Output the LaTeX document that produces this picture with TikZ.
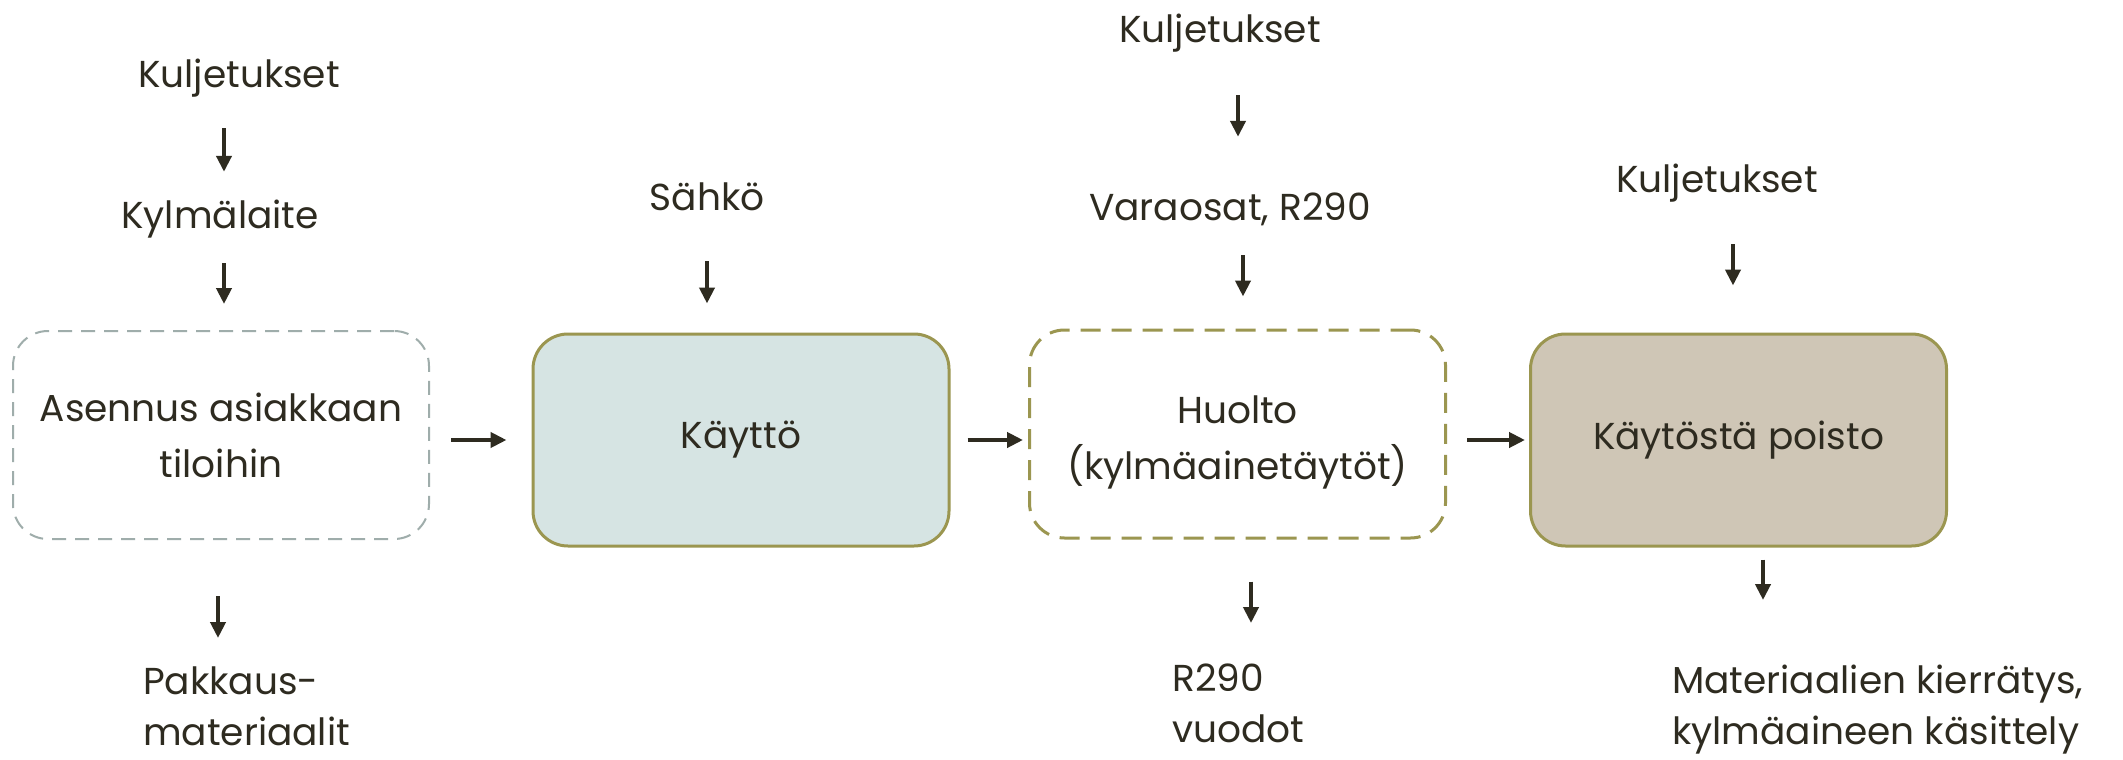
\documentclass[tikz,border=0pt]{standalone}
\usepackage{fontspec}
\setmainfont{Poppins}
\usetikzlibrary{arrows.meta}
\definecolor{boxolive}{HTML}{9B9650}
\definecolor{boxgray}{HTML}{9FADAB}
\definecolor{fillblue}{HTML}{D6E4E3}
\definecolor{filltan}{HTML}{CFC6B6}
\definecolor{txt}{HTML}{2E2B20}
\newcommand\mainfs{\fontsize{37.5}{51}\selectfont}
\newcommand\boxfs{\fontsize{37.5}{56}\selectfont}
\begin{document}
\begin{tikzpicture}[x=1pt,y=-1pt,
  lbl/.style={font=\mainfs, text=txt, inner sep=0pt, text height=28pt, text depth=9pt, anchor=base},
  mlbl/.style={font=\mainfs, text=txt, inner sep=0pt, anchor=north west, align=left},
  proc/.style={rounded corners=35pt, minimum width=416pt, align=center, font=\boxfs, text=txt, inner sep=0pt},
  grayproc/.style={proc, draw=boxgray, line width=2pt, dash pattern=on 14pt off 9pt, minimum height=208pt},
  oliveproc/.style={proc, draw=boxolive, line width=3pt, dash pattern=on 20pt off 11pt, minimum height=208pt},
  solidproc/.style={proc, draw=boxolive, line width=3pt, minimum height=212pt},
  arr/.style={draw=txt, line width=4pt, -{Triangle[length=16pt,width=15pt]}}
]
\useasboundingbox[fill=white] (0,0) rectangle (2123,760);

% labels above
\node[lbl] (kul1) at (239,88) {Kuljetukset};
\node[lbl] (kylm) at (220,228) {Kylmälaite};
\node[lbl] (sahko) at (707,210) {Sähkö};
\node[lbl] (kul2) at (1220,43) {Kuljetukset};
\node[lbl] (vara) at (1230,220) {Varaosat, R290};
\node[lbl] (kul3) at (1717,192) {Kuljetukset};

% process boxes
\node[grayproc] (b1) at (221,435) {Asennus asiakkaan\\tiloihin};
\node[solidproc, fill=fillblue] (b2) at (741,440) {Käyttö};
\node[oliveproc] (b3) at (1237.5,434) {};
\node[proc, yshift=-8pt] (b3t) at (b3) {Huolto\\(kylmäainetäytöt)};
\node[solidproc, fill=filltan] (b4) at (1738.5,440) {Käytöstä poisto};

% labels below
\node[mlbl] (pak) at (143,667) {Pakkaus-\\materiaalit};
\node[mlbl] (r290) at (1172,664) {R290\\vuodot};
\node[mlbl] (mat) at (1672,665) {Materiaalien kierrätys,\\kylmäaineen käsittely};

% horizontal arrows
\draw[arr, shorten <=21pt, shorten >=25pt] (b1.east |- b2.west) -- (b2.west);
\draw[arr, shorten <=17pt, shorten >=5pt] (b2.east) -- (b3.west |- b2.east);
\draw[arr, shorten <=20pt, shorten >=4pt] (b3.east |- b4.west) -- (b4.west);

% vertical arrows
\draw[arr, shorten <=31pt, shorten >=28pt] ([xshift=-15pt]kul1.south) -- ([xshift=4pt]kylm.north);
\draw[arr, shorten <=26pt, shorten >=26pt] ([xshift=4pt]kylm.south) -- ([xshift=3pt]b1.north);
\draw[arr, shorten <=42pt, shorten >=29pt] (sahko.south) -- (b2.north -| sahko.south);
\draw[arr, shorten <=43pt, shorten >=55pt] ([xshift=18pt]kul2.south) -- ([xshift=8pt]vara.north);
\draw[arr, shorten <=26pt, shorten >=32pt] ([xshift=13pt]vara.south) -- ([xshift=5.5pt]b3.north);
\draw[arr, shorten <=43pt, shorten >=47pt] ([xshift=16pt]kul3.south) -- ([xshift=-5.5pt]b4.north);
\draw[arr, shorten <=56pt, shorten >=29pt] ([xshift=-3pt]b1.south) -- ([xshift=-3pt]b1.south |- pak.north);
\draw[arr, shorten <=42pt, shorten >=41pt] ([xshift=13.5pt]b3.south) -- ([xshift=13.5pt]b3.south |- r290.north);
\draw[arr, shorten <=12pt, shorten >=65pt] ([xshift=24.5pt]b4.south) -- ([xshift=24.5pt]b4.south |- mat.north);
\end{tikzpicture}
\end{document}
